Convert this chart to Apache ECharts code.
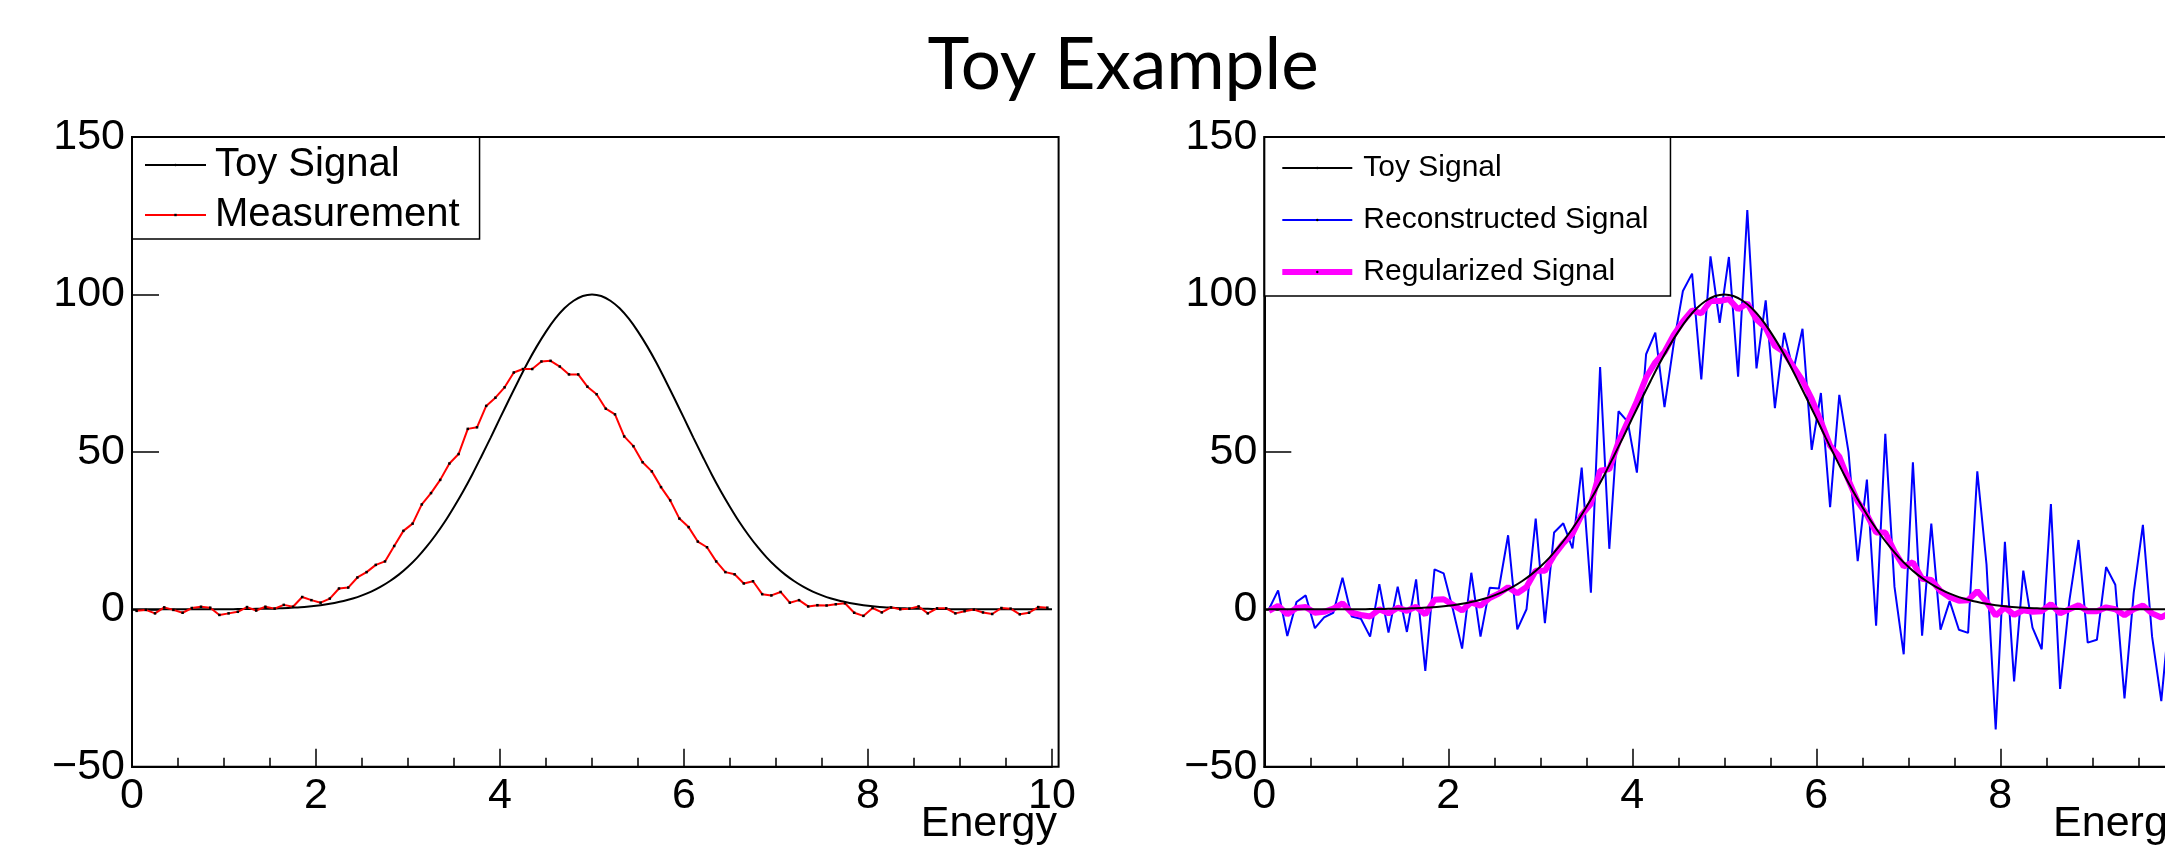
<!DOCTYPE html>
<html>
<head>
<meta charset="utf-8">
<title>Toy Example</title>
<style>
  html, body { margin: 0; padding: 0; background: #fff; }
  #main { width: 2165px; height: 849px; }
</style>
</head>
<body>
<div id="main"></div>
<script src="https://cdn.jsdelivr.net/npm/echarts@6/dist/echarts.min.js"></script>
<script>
  // histogram binning: 100 bins on [0, 10]
  var nBins = 100, xLow = 0, xHigh = 10;
  var binCenters = [];
  for (var i = 0; i < nBins; i++) binCenters.push(+(xLow + (i + 0.5) * (xHigh - xLow) / nBins).toFixed(2));

  // toy signal curve, read every 0.1 from 0 to 10
  var signalX = [];
  for (i = 0; i <= 100; i++) signalX.push(i / 10);
  var toySignal = [
    0, 0, 0, 0, 0, 0, 0, 0, 0, 0,
    0, 0, 0.1, 0.1, 0.2, 0.2, 0.3, 0.4, 0.6, 0.8,
    1.1, 1.5, 2.0, 2.6, 3.4, 4.4, 5.6, 7.1, 8.9, 11.0,
    13.5, 16.4, 19.8, 23.6, 27.8, 32.5, 37.5, 42.9, 48.7, 54.6,
    60.7, 66.7, 72.6, 78.3, 83.5, 88.2, 92.3, 95.6, 98.0, 99.5,
    100,
    99.5, 98.0, 95.6, 92.3, 88.2, 83.5, 78.3, 72.6, 66.7, 60.7,
    54.6, 48.7, 42.9, 37.5, 32.5, 27.8, 23.6, 19.8, 16.4, 13.5,
    11.0, 8.9, 7.1, 5.6, 4.4, 3.4, 2.6, 2.0, 1.5, 1.1,
    0.8, 0.6, 0.4, 0.3, 0.2, 0.2, 0.1, 0.1, 0, 0,
    0, 0, 0, 0, 0, 0, 0, 0, 0, 0
  ];

  // left pad
  var measurement = [
    -0.5, -0.2, -1.3, 0.6, -0.2, -1.1, 0.4, 0.8, 0.5, -1.8,
    -1.3, -0.8, 0.7, -0.4, 0.8, 0.2, 1.4, 0.8, 3.9, 2.9,
    2.1, 3.4, 6.6, 6.9, 10.1, 11.8, 14.1, 15.2, 20.1, 24.9,
    27.2, 33.3, 36.9, 41.1, 46.3, 49.3, 57.3, 57.8, 64.6, 67.2,
    70.5, 75.2, 76.3, 76.3, 78.7, 78.9, 77.1, 74.6, 74.6, 70.7,
    68.3, 63.7, 61.9, 54.9, 51.8, 46.7, 43.8, 38.8, 34.6, 28.8,
    26.1, 21.5, 19.7, 15.2, 11.8, 11.1, 8.2, 8.9, 4.8, 4.4,
    5.5, 2.1, 2.9, 0.9, 1.3, 1.2, 1.6, 1.9, -1.1, -2.1,
    0.4, -1.0, 0.6, 0, 0.2, 0.9, -1.3, 0.3, 0.3, -1.3,
    -0.6, -0.1, -1.0, -1.5, 0.4, 0.2, -1.6, -1.1, 0.7, 0.5
  ];

  // right pad
  var reconstructed = [
    0, 6.0, -8.5, 2.3, 4.4, -6.0, -2.6, -1.1, 10.0, -2.3,
    -3.0, -8.7, 8.0, -7.4, 7.2, -7.2, 9.5, -19.6, 12.7, 11.4,
    0, -12.5, 11.6, -8.7, 6.8, 6.6, 23.5, -6.4, 0, 28.8,
    -4.4, 24.4, 27.3, 19.3, 45.0, 5.3, 76.9, 19.2, 62.9, 59.6,
    43.4, 81.0, 87.9, 64.2, 84.3, 101.1, 106.6, 73.0, 112.1, 91.0,
    111.9, 73.9, 126.8, 76.5, 98.1, 63.9, 87.8, 75.8, 89.1, 50.6,
    68.7, 32.4, 68.1, 50.0, 15.3, 41.2, -5.2, 55.7, 7.1, -14.3,
    46.7, -8.4, 27.2, -6.5, 2.6, -6.5, -7.5, 43.8, 14.3, -38.2,
    21.4, -22.9, 12.3, -5.8, -12.7, 33.4, -25.3, 2.6, 22.0, -10.6,
    -9.7, 13.4, 7.8, -28.3, 5.2, 26.8, -8.7, -29.2, 2.0, -3.0
  ];
  var regularized = [
    -0.5, 1.1, -1.6, 0.4, 0.7, -1.1, -0.8, 0.2, 1.9, -1.1,
    -1.8, -2.3, 0, -1.3, 0.5, -0.5, 0.8, -1.6, 3.0, 3.2,
    1.4, -0.4, 2.2, 1.1, 3.6, 5.0, 7.0, 5.1, 7.1, 12.2,
    12.2, 17.2, 21.0, 24.0, 30.0, 33.5, 44.0, 44.5, 53.1, 59.6,
    66.1, 73.6, 78.4, 81.7, 87.1, 91.4, 94.9, 94.0, 97.9, 97.9,
    98.5, 95.3, 97.2, 92.0, 89.4, 83.6, 81.7, 77.1, 72.6, 66.8,
    59.6, 52.0, 48.5, 41.0, 34.2, 30.0, 24.4, 24.4, 18.3, 13.6,
    14.9, 9.7, 9.3, 5.8, 3.8, 2.7, 2.9, 5.8, 2.4, -2.0,
    0.6, -1.8, -0.3, -0.8, -0.6, 1.6, -1.3, 0, 1.3, -0.6,
    -0.6, 0.6, 0, -1.9, 0, 1.2, -1.3, -2.6, -1.0, 0
  ];

  function pairs(xs, ys) {
    return xs.map(function (x, k) { return [x, ys[k]]; });
  }

  var FONT = '"Liberation Sans", Arial, Helvetica, sans-serif';
  var FRAME_W = 926.6, FRAME_H = 629.7;

  function xAxisFor(idx, showMax) {
    return {
      gridIndex: idx, type: 'value', min: 0, max: 10, interval: 2,
      name: 'Energy', nameLocation: 'end', nameGap: 5, nameMoveOverlap: false,
      nameTextStyle: {
        fontFamily: FONT, fontSize: 43, color: '#000',
        align: 'right', verticalAlign: 'top', padding: [36, 0, 0, 0]
      },
      axisLine: { onZero: false, lineStyle: { color: '#000', width: 2 } },
      axisTick: { inside: true, length: 18, lineStyle: { color: '#000', width: 1.5 } },
      minorTick: { show: true, splitNumber: 4, length: 9, lineStyle: { color: '#000', width: 1.5 } },
      axisLabel: { fontFamily: FONT, fontSize: 43, color: '#000', margin: 8, showMaxLabel: showMax },
      splitLine: { show: false }
    };
  }
  function yAxisFor(idx) {
    return {
      gridIndex: idx, type: 'value', min: -50, max: 150, interval: 50,
      axisLine: { onZero: false, lineStyle: { color: '#000', width: 2 } },
      axisTick: { inside: true, length: 27, lineStyle: { color: '#000', width: 1.5 } },
      axisLabel: {
        fontFamily: FONT, fontSize: 43, color: '#000', margin: 7,
        formatter: function (v) { return String(v).replace('-', '\u2212'); }
      },
      splitLine: { show: false }
    };
  }

  var myChart = echarts.init(document.getElementById('main'), null, { renderer: 'canvas' });

  var option = {
    animation: false,
    backgroundColor: '#fff',
    title: {
      text: 'Toy Example', left: 1123, top: 31, padding: 0, textAlign: 'center',
      textStyle: { fontFamily: 'Lato, "Open Sans", sans-serif', fontSize: 71, fontWeight: 'normal', color: '#000' }
    },
    grid: [
      { left: 132, top: 137, width: 920, height: FRAME_H, outerBoundsMode: 'none', containLabel: false },
      { left: 1264.3, top: 137, width: 920, height: FRAME_H, outerBoundsMode: 'none', containLabel: false }
    ],
    // the right pad runs past the slide edge, so its "10" is cut off
    xAxis: [xAxisFor(0, true), xAxisFor(1, false)],
    yAxis: [yAxisFor(0), yAxisFor(1)],
    legend: [
      {
        left: 132, top: 137, orient: 'vertical', selectedMode: false,
        data: [
          { name: 'Toy Signal', itemStyle: { color: '#000' } },
          { name: 'Measurement', itemStyle: { color: '#000' } }
        ],
        itemWidth: 61, itemHeight: 3, itemGap: 10,
        padding: [8, 20, 4, 12],
        borderColor: '#000', borderWidth: 1.5, borderRadius: 0, backgroundColor: '#fff',
        textStyle: { fontFamily: FONT, fontSize: 40, color: '#000', padding: [0, 0, 0, 4] }
      },
      {
        left: 1264.3, top: 137, orient: 'vertical', selectedMode: false,
        data: [
          { name: 'Toy Signal', itemStyle: { color: '#000' } },
          { name: 'Reconstructed Signal', itemStyle: { color: '#000' } },
          { name: 'Regularized Signal', itemStyle: { color: '#000' }, lineStyle: { width: 6 } }
        ],
        itemWidth: 70, itemHeight: 3, itemGap: 22,
        padding: [16, 22, 9, 15],
        borderColor: '#000', borderWidth: 1.5, borderRadius: 0, backgroundColor: '#fff',
        textStyle: { fontFamily: FONT, fontSize: 30, color: '#000', padding: [0, 0, 0, 6] }
      }
    ],
    graphic: [
      { type: 'rect', silent: true, z: 100, shape: { x: 132, y: 137, width: FRAME_W, height: FRAME_H },
        style: { fill: 'none', stroke: '#000', lineWidth: 2 } },
      { type: 'rect', silent: true, z: 100, shape: { x: 1264.3, y: 137, width: FRAME_W, height: FRAME_H },
        style: { fill: 'none', stroke: '#000', lineWidth: 2 } }
    ],
    series: [
      {
        name: 'Toy Signal', type: 'line', xAxisIndex: 0, yAxisIndex: 0,
        data: pairs(signalX, toySignal), symbol: 'none', smooth: 0.3,
        lineStyle: { color: '#000', width: 2 }, itemStyle: { color: '#000' }, z: 2
      },
      {
        name: 'Measurement', type: 'line', xAxisIndex: 0, yAxisIndex: 0,
        data: pairs(binCenters, measurement), symbol: 'rect', symbolSize: 2.5,
        lineStyle: { color: '#ff0000', width: 2 }, itemStyle: { color: '#000' }, z: 3
      },
      {
        name: 'Reconstructed Signal', type: 'line', xAxisIndex: 1, yAxisIndex: 1,
        data: pairs(binCenters, reconstructed), symbol: 'none',
        lineStyle: { color: '#0000ff', width: 2 }, itemStyle: { color: '#0000ff' }, z: 2
      },
      {
        name: 'Regularized Signal', type: 'line', xAxisIndex: 1, yAxisIndex: 1,
        data: pairs(binCenters, regularized), symbol: 'none',
        lineStyle: { color: '#ff00ff', width: 6 }, itemStyle: { color: '#ff00ff' }, z: 3
      },
      {
        name: 'Toy Signal', type: 'line', xAxisIndex: 1, yAxisIndex: 1,
        data: pairs(signalX, toySignal), symbol: 'none', smooth: 0.3,
        lineStyle: { color: '#000', width: 2 }, itemStyle: { color: '#000' }, z: 4
      }
    ]
  };

  myChart.setOption(option);
</script>
</body>
</html>
